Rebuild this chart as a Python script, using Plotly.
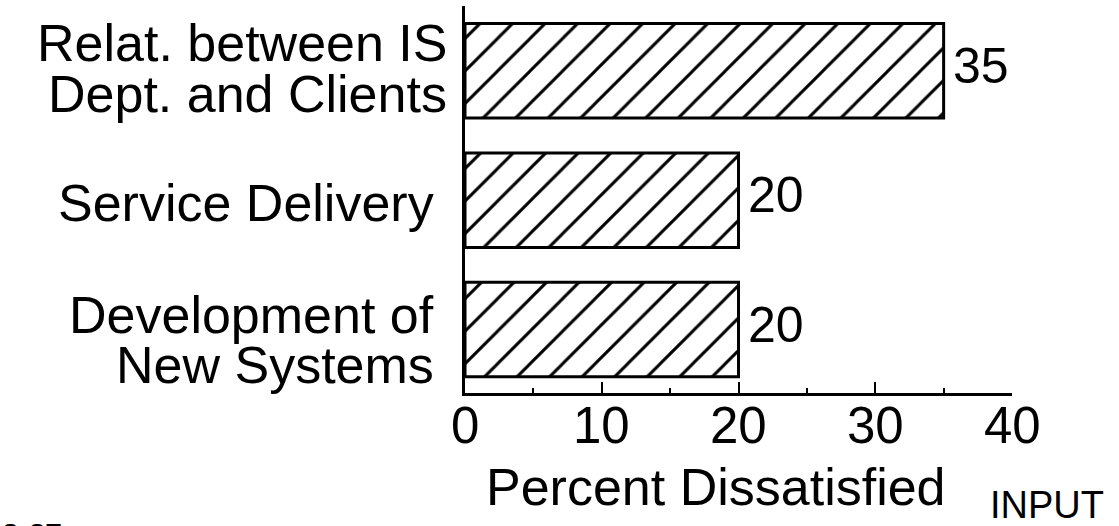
import plotly.graph_objects as go

categories = ["Development of New Systems", "Service Delivery", "Relat. between IS Dept. and Clients"]
label_lines = [["Development of", "New Systems"], ["Service Delivery"], ["Relat. between IS", "Dept. and Clients"]]
values = [20, 20, 35]
x_ticks = [0, 10, 20, 30, 40]
x_minor = [5, 15, 25, 35]
x_title = "Percent Dissatisfied"
source_tag = "INPUT"
page_tag = "2-27"

FONT = "Liberation Sans, Arial, Helvetica, sans-serif"

fig = go.Figure()
fig.add_trace(go.Bar(
    x=values, y=list(range(len(categories))), orientation="h", width=0.73,
    marker=dict(color="white", line=dict(color="black", width=3),
                pattern=dict(shape="/", fgcolor="black", bgcolor="white", fgopacity=1,
                             size=23, solidity=0.13)),
    hoverinfo="skip",
))

annotations = []
line_shifts = [[14.5, -35.5], [-3], [28, -23]]
right_shift = [-29, -29, -16]
for i, lines in enumerate(label_lines):
    for ln, ys in zip(lines, line_shifts[i]):
        annotations.append(dict(xref="paper", yref="y", x=0, y=i, text=ln, showarrow=False,
                                xanchor="right", yanchor="middle", xshift=right_shift[i], yshift=ys,
                                font=dict(family=FONT, size=52, color="black")))
for i, v in enumerate(values):
    annotations.append(dict(xref="x", yref="y", x=v, y=i, text=str(v), showarrow=False,
                            xanchor="left", yanchor="middle", xshift=7, yshift=5,
                            font=dict(family=FONT, size=50, color="black")))
for t in x_ticks:
    annotations.append(dict(xref="x", yref="paper", x=t, y=0, text=str(t), showarrow=False,
                            xanchor="center", yanchor="top", yshift=-2,
                            font=dict(family=FONT, size=51, color="black")))
annotations.append(dict(xref="paper", yref="paper", x=0.459, y=-0.243, text=x_title, showarrow=False,
                        xanchor="center", yanchor="middle", font=dict(family=FONT, size=52, color="black")))
annotations.append(dict(xref="paper", yref="paper", x=0.956, y=-0.289, text=source_tag, showarrow=False,
                        xanchor="left", yanchor="middle", font=dict(family=FONT, size=38, color="black")))
annotations.append(dict(xref="paper", yref="paper", x=-0.85, y=-0.315, text="<b>" + page_tag + "</b>", showarrow=False,
                        xanchor="left", yanchor="top", font=dict(family=FONT, size=30, color="black")))

fig.update_layout(
    width=1119, height=526,
    margin=dict(l=465, r=107, t=6, b=133, autoexpand=False),
    paper_bgcolor="white", plot_bgcolor="white",
    showlegend=False,
    annotations=annotations,
    xaxis=dict(range=[0, 40], tickvals=x_ticks, showticklabels=False,
               ticks="inside", ticklen=11, tickwidth=2, tickcolor="black",
               minor=dict(tickvals=x_minor, ticks="inside", ticklen=5, tickwidth=2, tickcolor="black"),
               showline=True, linecolor="black", linewidth=3, showgrid=False, zeroline=False,
               fixedrange=True),
    yaxis=dict(range=[-0.49, 2.5], showticklabels=False, ticks="", showline=True, linecolor="black",
               linewidth=3, showgrid=False, zeroline=False, fixedrange=True),
)

fig.write_html("out.html", config={"displayModeBar": False},
               post_script="document.body.style.margin='0';document.body.style.overflow='hidden';")
